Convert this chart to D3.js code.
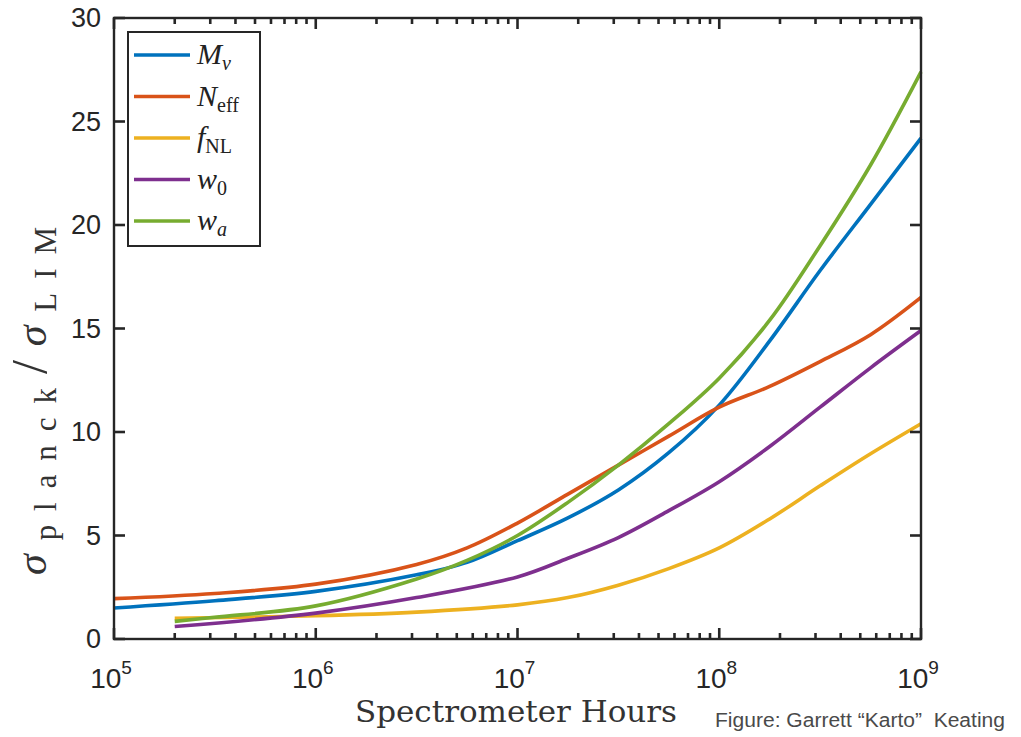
<!DOCTYPE html>
<html>
<head>
<meta charset="utf-8">
<script src="https://cdn.jsdelivr.net/npm/d3@7"></script>
<style>
  body { margin: 0; background: #fff; }
  svg { display: block; }
</style>
</head>
<body>
<script>
// values (x given as log10 of spectrometer hours)
const mnuLog  = [5, 5.5, 6, 6.5, 6.75, 7, 7.25, 7.5, 7.75, 8, 8.25, 8.5, 8.75, 9];
const mnuVal  = [1.5, 1.85, 2.3, 3.1, 3.7, 4.75, 5.85, 7.2, 9.0, 11.3, 14.4, 17.8, 21.0, 24.2];

const neffLog = [5, 5.5, 6, 6.5, 6.75, 7, 7.25, 7.5, 7.75, 8, 8.25, 8.5, 8.75, 9];
const neffVal = [1.95, 2.2, 2.65, 3.6, 4.4, 5.6, 7.0, 8.4, 9.8, 11.2, 12.2, 13.4, 14.7, 16.5];

const fnlLog  = [5.301, 6, 6.5, 7, 7.25, 7.5, 7.75, 8, 8.25, 8.5, 8.75, 9];
const fnlVal  = [1.0, 1.12, 1.3, 1.65, 2.0, 2.6, 3.4, 4.4, 5.8, 7.4, 8.95, 10.4];

const w0Log   = [5.301, 6, 6.5, 7, 7.25, 7.5, 7.75, 8, 8.25, 8.5, 8.75, 9];
const w0Val   = [0.6, 1.25, 2.0, 3.0, 3.9, 4.9, 6.2, 7.6, 9.3, 11.2, 13.1, 14.9];

const waLog   = [5.301, 5.5, 6, 6.5, 6.75, 7, 7.25, 7.5, 7.75, 8, 8.25, 8.5, 8.75, 9];
const waVal   = [0.85, 1.05, 1.6, 2.9, 3.8, 5.0, 6.6, 8.4, 10.4, 12.6, 15.4, 19.0, 22.9, 27.4];

const seriesNames  = ["M", "N", "f", "w", "w"];
const seriesSubs   = ["\u03bd", "eff", "NL", "0", "a"];
const seriesColors = ["#0072BD", "#D95319", "#EDB120", "#7E2F8E", "#77AC30"];

const xTickExps = [5, 6, 7, 8, 9];
const yTicks = [0, 5, 10, 15, 20, 25, 30];

const W = 1021, H = 737;
const plotL = 114, plotR = 921, plotT = 18, plotB = 639;
const axisColor = "#262626";

const svg = d3.select("body").append("svg").attr("width", W).attr("height", H);

const x = d3.scaleLog().domain([1e5, 1e9]).range([plotL, plotR]);
const y = d3.scaleLinear().domain([0, 30]).range([plotB, plotT]);

function makeSeries(logs, vals) {
    return logs.map((e, i) => ({ h: Math.pow(10, e), v: vals[i] }));
}
const series = [
    makeSeries(mnuLog, mnuVal),
    makeSeries(neffLog, neffVal),
    makeSeries(fnlLog, fnlVal),
    makeSeries(w0Log, w0Val),
    makeSeries(waLog, waVal)
];

// curves
const line = d3.line()
    .x(d => x(d.h))
    .y(d => y(d.v))
    .curve(d3.curveCatmullRom.alpha(0.5));

const gLines = svg.append("g");
series.forEach((s, i) => {
    gLines.append("path")
        .datum(s)
        .attr("d", line)
        .attr("fill", "none")
        .attr("stroke", seriesColors[i])
        .attr("stroke-width", 3.6);
});

// ticks, MATLAB style: pointing inward on all four sides
const majorX = xTickExps.map(e => Math.pow(10, e));
const minorX = [];
for (let e = 5; e < 9; e++) for (let m = 2; m <= 9; m++) minorX.push(m * Math.pow(10, e));

const xTickData = majorX.map(v => ({ v, len: 11 })).concat(minorX.map(v => ({ v, len: 6 })));
const gTicks = svg.append("g");
function tickStyle(sel) {
    sel.attr("stroke", axisColor).attr("stroke-width", 2.6);
}
gTicks.selectAll("line.xb").data(xTickData).join("line").attr("class", "xb")
    .attr("x1", d => x(d.v)).attr("x2", d => x(d.v))
    .attr("y1", plotB).attr("y2", d => plotB - d.len)
    .call(tickStyle);
gTicks.selectAll("line.xt").data(xTickData).join("line").attr("class", "xt")
    .attr("x1", d => x(d.v)).attr("x2", d => x(d.v))
    .attr("y1", plotT).attr("y2", d => plotT + d.len)
    .call(tickStyle);
gTicks.selectAll("line.yl").data(yTicks).join("line").attr("class", "yl")
    .attr("x1", plotL).attr("x2", plotL + 11)
    .attr("y1", d => y(d)).attr("y2", d => y(d))
    .call(tickStyle);
gTicks.selectAll("line.yr").data(yTicks).join("line").attr("class", "yr")
    .attr("x1", plotR).attr("x2", plotR - 11)
    .attr("y1", d => y(d)).attr("y2", d => y(d))
    .call(tickStyle);

// box
svg.append("rect")
    .attr("x", plotL).attr("y", plotT)
    .attr("width", plotR - plotL).attr("height", plotB - plotT)
    .attr("fill", "none").attr("stroke", axisColor).attr("stroke-width", 2.4);

// tick labels
svg.append("g").selectAll("text")
    .data(yTicks).join("text")
    .attr("x", plotL - 13)
    .attr("y", d => y(d) + 9)
    .attr("text-anchor", "end")
    .attr("font-family", "Liberation Sans, Arial, sans-serif")
    .attr("font-size", 27)
    .attr("fill", axisColor)
    .text(d => d);

const xl = svg.append("g").selectAll("text")
    .data(xTickExps).join("text")
    .attr("x", d => x(Math.pow(10, d)) - 3)
    .attr("y", 688)
    .attr("text-anchor", "middle")
    .attr("font-family", "Liberation Sans, Arial, sans-serif")
    .attr("font-size", 28)
    .attr("fill", axisColor);
xl.append("tspan").text("10");
xl.append("tspan").attr("dy", -14).attr("font-size", 19).text(d => d);

// axis titles
svg.append("text")
    .attr("x", 355).attr("y", 722)
    .attr("textLength", 322)
    .attr("lengthAdjust", "spacingAndGlyphs")
    .attr("font-family", "DejaVu Serif, Liberation Serif, serif")
    .attr("font-size", 30)
    .attr("fill", "#333")
    .text("Spectrometer Hours");

const yt = svg.append("text")
    .attr("text-anchor", "middle")
    .attr("font-family", "Liberation Serif, DejaVu Serif, serif")
    .attr("font-size", 42)
    .attr("fill", "#333");
yt.append("tspan").attr("font-style", "italic").text("\u03c3");
yt.append("tspan").attr("dy", 10).attr("font-size", 31).text("planck");
yt.append("tspan").attr("dy", -10).attr("font-size", 50).text("/");
yt.append("tspan").attr("font-style", "italic").text("\u03c3");
yt.append("tspan").attr("dy", 10).attr("font-size", 31).text("LIM");
// spread the glyphs a little so the title spans the same length as in the figure
const ytLen = yt.node().getComputedTextLength();
const ytChars = yt.text().length;
yt.attr("letter-spacing", Math.max(0, (362 - ytLen) / ytChars))
  .attr("transform", "translate(46,394) rotate(-90)");

// legend
const lg = svg.append("g");
lg.append("rect")
    .attr("x", 128).attr("y", 32).attr("width", 132).attr("height", 214)
    .attr("fill", "#fff").attr("stroke", axisColor).attr("stroke-width", 2);
const legendY = d3.scalePoint().domain(d3.range(seriesNames.length)).range([55, 221]);
const items = lg.selectAll("g.item")
    .data(seriesNames.map((n, i) => i)).join("g")
    .attr("class", "item")
    .attr("transform", i => `translate(0,${legendY(i)})`);
items.append("line")
    .attr("x1", 134).attr("x2", 190)
    .attr("stroke", i => seriesColors[i]).attr("stroke-width", 3.6);
const lt = items.append("text")
    .attr("x", 197).attr("y", 9)
    .attr("font-family", "Liberation Serif, DejaVu Serif, serif")
    .attr("font-size", 30)
    .attr("fill", "#222");
lt.append("tspan").attr("font-style", "italic").text(i => seriesNames[i]);
lt.append("tspan")
    .attr("dy", 6)
    .attr("font-size", 20)
    .attr("font-style", i => (i === 0 || i === 4) ? "italic" : "normal")
    .text(i => seriesSubs[i]);

// credit
svg.append("text")
    .attr("x", 715).attr("y", 727)
    .attr("textLength", 290)
    .attr("lengthAdjust", "spacingAndGlyphs")
    .attr("font-family", "Liberation Sans, Arial, sans-serif")
    .attr("font-size", 20)
    .attr("fill", "#4a4a4a")
    .text("Figure: Garrett \u201cKarto\u201d\u00a0 Keating");
</script>
</body>
</html>
